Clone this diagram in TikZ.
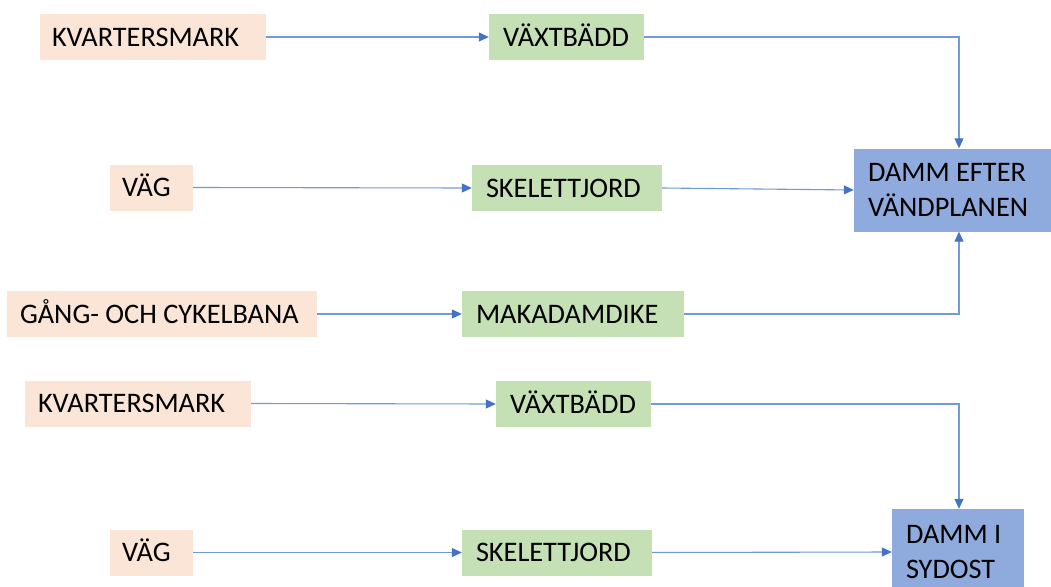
\documentclass[tikz,border=0pt]{standalone}
\usepackage{fontspec}
\setmainfont{Carlito}
\usetikzlibrary{arrows.meta}
\definecolor{peach}{HTML}{FBE5D6}
\definecolor{leaf}{HTML}{C5E0B4}
\definecolor{pond}{HTML}{8FAADC}
\definecolor{flow}{HTML}{7199DB}
\definecolor{tipblue}{HTML}{4472C4}
\begin{document}
\begin{tikzpicture}[x=1pt,y=-1pt,
  box/.style={rectangle, inner ysep=0pt, align=flush left, minimum height=46pt,
    font=\fontsize{28.3}{34.5}\selectfont},
  oneline/.style={text height=18.5pt, text depth=0pt},
  src/.style={box, oneline, fill=peach},
  mid/.style={box, oneline, fill=leaf},
  dst/.style={box, fill=pond},
  conn/.style={draw=flow, line width=1.1pt,
    -{Triangle[length=10pt,width=9pt,color=tipblue]}}
]
\useasboundingbox (0,0) rectangle (1051,586);
% row 1
\node[src, text width=202pt, inner xsep=12pt] (k1) at (153,37) {KVARTERSMARK};
\node[mid, text width=127pt, inner xsep=14pt] (v1) at (566.5,37) {VÄXTBÄDD};
% row 2
\node[src, text width=59pt, inner xsep=12pt] (g1) at (151.5,187.5) {VÄG};
\node[mid, text width=162pt, inner xsep=14pt] (s1) at (567,188) {SKELETTJORD};
\node[dst, text width=169pt, inner xsep=14pt, minimum height=83pt] (d1) at (952.5,190) {DAMM EFTER\\VÄNDPLANEN};
% row 3
\node[src, text width=284pt, inner xsep=13pt] (c1) at (162,314) {\mbox{GÅNG- OCH CYKELBANA}};
\node[mid, text width=194pt, inner xsep=14pt] (m1) at (573,314) {MAKADAMDIKE};
% row 4
\node[src, text width=200pt, inner xsep=13pt] (k2) at (138,403.5) {KVARTERSMARK};
\node[mid, text width=127pt, inner xsep=14pt] (v2) at (573.5,404) {VÄXTBÄDD};
% row 5
\node[src, text width=59pt, inner xsep=12pt] (g2) at (151.5,552.5) {VÄG};
\node[mid, text width=162pt, inner xsep=14pt] (s2) at (557,552.5) {SKELETTJORD};
\node[dst, text width=104pt, inner xsep=14pt, minimum height=86pt] (d2) at (958,552) {DAMM I\\SYDOST};
% connectors
\draw[conn] (k1.east) -- (v1.west);
\draw[conn] (v1.east) -| ([xshift=6.5pt]d1.north);
\draw[conn] (g1.east) -- (s1.west);
\draw[conn] (s1.east) -- (d1.west);
\draw[conn] (c1.east) -- (m1.west);
\draw[conn] (m1.east) -| ([xshift=6.5pt]d1.south);
\draw[conn] (k2.east) -- (v2.west);
\draw[conn] (v2.east) -| ([xshift=1pt]d2.north);
\draw[conn] (g2.east) -- (s2.west);
\draw[conn] (s2.east) -- (d2.west);
\end{tikzpicture}
\end{document}
